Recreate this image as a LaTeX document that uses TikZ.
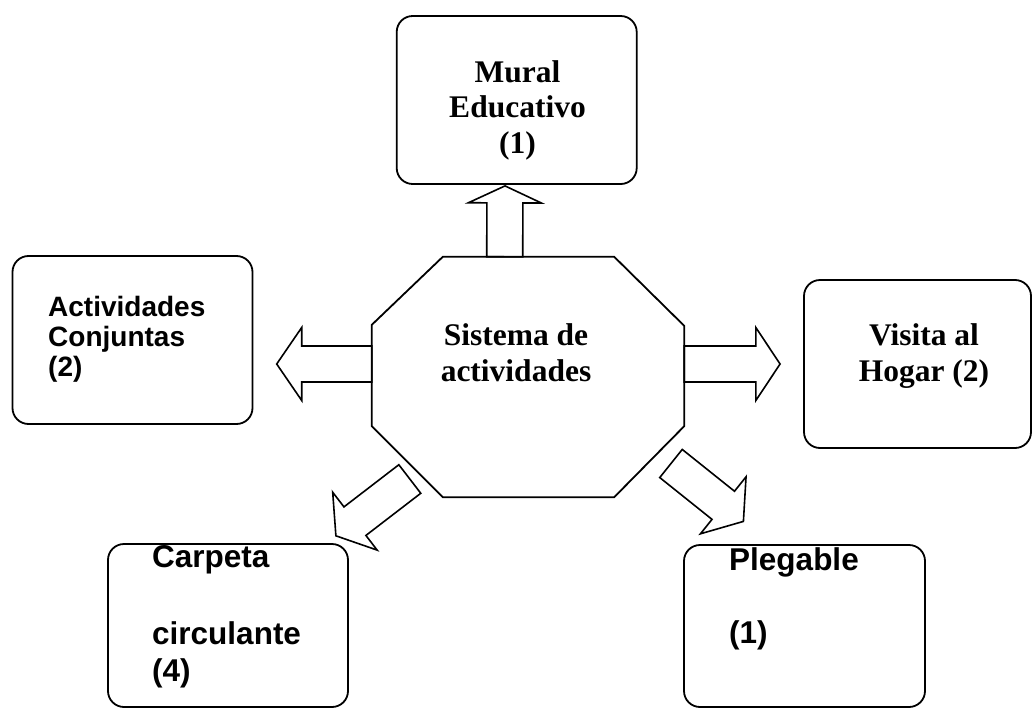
\documentclass[tikz,border=0pt]{standalone}
\usepackage{fontspec}
\setmainfont{Liberation Serif}
\setsansfont{Liberation Sans}
\usetikzlibrary{calc}

\tikzset{
  caja/.style={draw, line width=1.8pt, rounded corners=16pt, inner sep=0pt},
  romana/.style={font=\fontsize{31.5}{35.5}\selectfont\bfseries, align=center, inner sep=0pt},
  palo/.style={font=\sffamily\bfseries\fontsize{31.5}{37}\selectfont, align=left, inner sep=0pt},
  palochico/.style={font=\sffamily\bfseries\fontsize{28}{30}\selectfont, align=left, inner sep=0pt},
  bloque/.style={draw, line width=1.6pt},
}

% flecha gruesa: inicio, punta, largo de la cabeza
\newcommand{\flecha}[3]{%
  \coordinate (fa) at #1;
  \coordinate (fb) at #2;
  \coordinate (fh) at ($(fb)!#3pt!(fa)$);
  \draw[bloque] ($(fa)!18pt!90:(fb)$) -- ($(fh)!18pt!90:(fb)$)
    -- ($(fh)!36.5pt!90:(fb)$) -- (fb) -- ($(fh)!36.5pt!-90:(fb)$)
    -- ($(fh)!18pt!-90:(fb)$) -- ($(fa)!18pt!-90:(fb)$) -- cycle;
}

\begin{document}
\begin{tikzpicture}[x=1pt, y=-1pt]
	\useasboundingbox (0,0) rectangle (1033,709);
	% octagono central
	\node[minimum width=312pt, minimum height=240pt, inner sep=0pt] (octo) at (528,377) {};
	\draw[line width=1.8pt] ($(octo.north west)+(71,0)$) -- ($(octo.north east)+(-70,0)$)
		-- ($(octo.north east)+(0,69)$) -- ($(octo.south east)+(0,-71)$)
		-- ($(octo.south east)+(-70,0)$) -- ($(octo.south west)+(71,0)$)
		-- ($(octo.south west)+(0,-71)$) -- ($(octo.north west)+(0,68)$) -- cycle;
	\node[romana, anchor=north] (tsistema) at (516,323.7) {Sistema de\\actividades};
	% cajas
	\node[caja, minimum width=240pt, minimum height=168pt] (mural) at (516.7,100) {};
	\node[caja, minimum width=240pt, minimum height=168pt] (activ) at (132.5,340) {};
	\node[caja, minimum width=227pt, minimum height=168pt] (visita) at (917.5,364) {};
	\node[caja, minimum width=240pt, minimum height=163pt] (carpeta) at (228,625.5) {};
	\node[caja, minimum width=241pt, minimum height=162pt] (pleg) at (804.5,626) {};
	\node[romana, anchor=north] (tmural) at (517.5,60.4) {Mural\\Educativo\\(1)};
	\node[romana, anchor=north] (tvisita) at (924,323.7) {Visita al\\Hogar (2)};
	\node[palochico, anchor=north west] (tactiv) at (48,296) {Actividades\\Conjuntas\\(2)};
	\node[palo, anchor=north west] (tcarpeta) at (152,545) {Carpeta\\[40pt]circulante\\(4)};
	\node[palo, anchor=north west] (tpleg) at (729,547.4) {Plegable\\[36pt](1)};
	% flechas
	\flecha{($(octo.north)+(-23.3,0)$)}{($(mural.south)+(-11.7,1)$)}{17}
	\flecha{($(octo.west)+(0,-13)$)}{($(activ.east)+(23.3,24)$)}{25}
	\flecha{($(octo.east)+(0,-13)$)}{($(visita.west)+(-23,0)$)}{24.3}
	\flecha{($(octo.south east)+(-13.2,-33.7)$)}{($(pleg.north west)+(60.3,-22.7)$)}{25.8}
	\flecha{($(octo.south west)+(38,-18.2)$)}{($(carpeta.north east)+(-13,-7.3)$)}{24}
\end{tikzpicture}
\end{document}
